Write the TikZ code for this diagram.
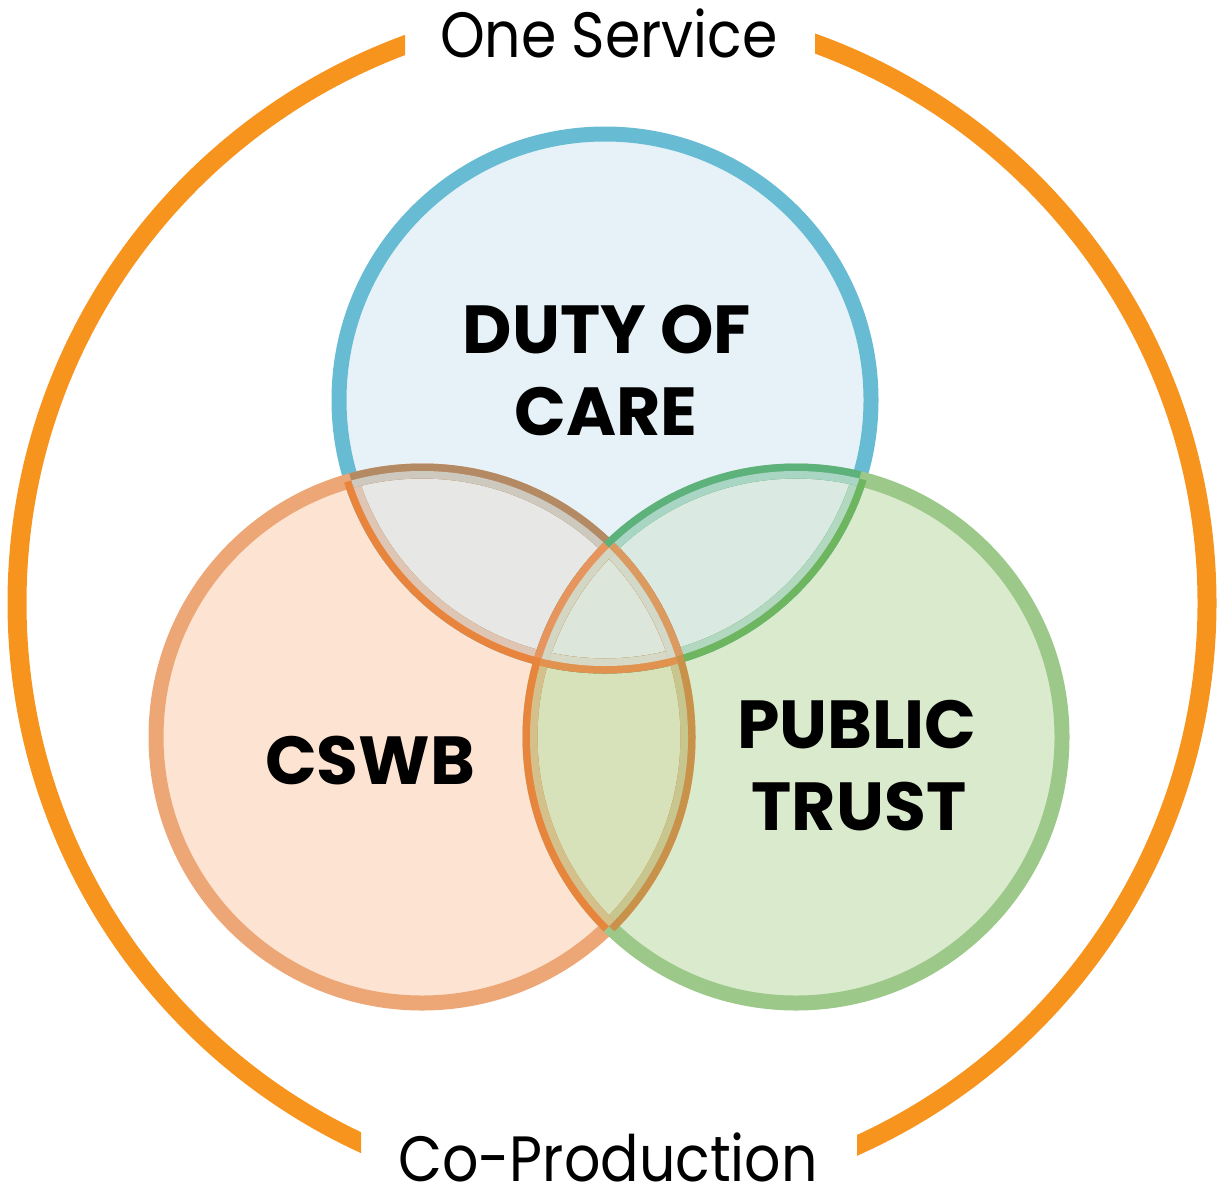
\documentclass[tikz,border=0pt]{standalone}
\usepackage{fontspec}
\setmainfont{Poppins}
\newfontfamily\thinfont{Poppins}[FakeStretch=0.89]
\definecolor{orng}{HTML}{F7941D}
\definecolor{bfill}{HTML}{E6F2F7}
\definecolor{pfill}{HTML}{FCE3D2}
\definecolor{gfill}{HTML}{DAEACC}
\definecolor{bpfill}{HTML}{E7E7E5}
\definecolor{bgfill}{HTML}{DAEAE3}
\definecolor{pgfill}{HTML}{D7E2BB}
\definecolor{cfill}{HTML}{DCE6DB}
\definecolor{bline}{HTML}{67BBD3}
\definecolor{pline}{HTML}{EDA676}
\definecolor{gline}{HTML}{9CC98A}
\definecolor{bInPo}{HTML}{E8843C}
\definecolor{bInPi}{HTML}{DFC5B4}
\definecolor{bInGo}{HTML}{6DB55F}
\definecolor{bInGi}{HTML}{B3D8C0}
\definecolor{pInBo}{HTML}{B38A64}
\definecolor{pInBi}{HTML}{CDC9BF}
\definecolor{pInGo}{HTML}{C9924B}
\definecolor{pInGi}{HTML}{C7C68F}
\definecolor{gInBo}{HTML}{5DB17B}
\definecolor{gInBi}{HTML}{A9D5C5}
\definecolor{gInPo}{HTML}{E8853D}
\definecolor{gInPi}{HTML}{D3C08B}
\definecolor{bCo}{HTML}{E2924F}
\definecolor{bCi}{HTML}{D6D9C6}
\definecolor{pCo}{HTML}{DB9A60}
\definecolor{pCi}{HTML}{D3D9C9}
\definecolor{gCo}{HTML}{E6955F}
\definecolor{gCi}{HTML}{D4D6C4}
\tikzset{
  ring/.style={line width=15pt},
  thinlabel/.style={font=\thinfont\fontsize{64}{64}\selectfont, text=black, inner sep=0pt, anchor=base, text depth=0pt},
  boldlabel/.style={font=\fontsize{68}{68}\selectfont\bfseries, text=black, inner sep=0pt, anchor=base}
}
\newcommand\vennseg[4]{%
  \begin{scope}
    \clip (#2) circle[radius=\R];
    \draw[ring, #3] (#1) circle[radius=\R];
    \clip (#1) circle[radius=\R];
    \draw[ring, #4] (#1) circle[radius=\R];
  \end{scope}}
\newcommand\venncseg[5]{%
  \begin{scope}
    \clip (#2) circle[radius=\R];
    \clip (#3) circle[radius=\R];
    \draw[ring, #4] (#1) circle[radius=\R];
    \clip (#1) circle[radius=\R];
    \draw[ring, #5] (#1) circle[radius=\R];
  \end{scope}}
\begin{document}
\begin{tikzpicture}[x=1pt,y=-1pt]
\useasboundingbox (0,0) rectangle (1225,1194);
\def\R{266}
\coordinate (O) at (612,603);
\coordinate (B) at (605,400);
\coordinate (P) at (422,737);
\coordinate (G) at (796,737);
% outer ring with gaps
\begin{scope}
  \clip (0,0) rectangle (405,600) (815,0) rectangle (1225,600)
        (0,600) rectangle (361,1194) (857,600) rectangle (1225,1194);
  \draw[orng, line width=19pt] (O) circle[radius=595];
\end{scope}
% fills
\fill[bfill] (B) circle[radius=\R];
\fill[pfill] (P) circle[radius=\R];
\fill[gfill] (G) circle[radius=\R];
\begin{scope}\clip (B) circle[radius=\R]; \fill[bpfill] (P) circle[radius=\R];\end{scope}
\begin{scope}\clip (B) circle[radius=\R]; \fill[bgfill] (G) circle[radius=\R];\end{scope}
\begin{scope}\clip (P) circle[radius=\R]; \fill[pgfill] (G) circle[radius=\R];\end{scope}
\begin{scope}\clip (B) circle[radius=\R]; \clip (P) circle[radius=\R]; \fill[cfill] (G) circle[radius=\R];\end{scope}
% base strokes
\draw[ring, bline] (B) circle[radius=\R];
\draw[ring, pline] (P) circle[radius=\R];
\draw[ring, gline] (G) circle[radius=\R];
% strokes inside other circles
\vennseg{B}{P}{bInPo}{bInPi}
\vennseg{B}{G}{bInGo}{bInGi}
\vennseg{P}{B}{pInBo}{pInBi}
\vennseg{P}{G}{pInGo}{pInGi}
\vennseg{G}{B}{gInBo}{gInBi}
\vennseg{G}{P}{gInPo}{gInPi}
\venncseg{B}{P}{G}{bCo}{bCi}
\venncseg{P}{B}{G}{pCo}{pCi}
\venncseg{G}{B}{P}{gCo}{gCi}
% labels
\node[thinlabel] (one) at (609,57) {One Service};
\node[thinlabel] (co) at (608,1181) {Co-Production};
\node[boldlabel] (duty1) at (607,353) {DUTY OF};
\node[boldlabel] (duty2) at (606,435) {CARE};
\node[boldlabel] (cswb) at (370,784) {CSWB};
\node[boldlabel] (pub1) at (857,748) {PUBLIC};
\node[boldlabel] (pub2) at (859,830) {TRUST};
\end{tikzpicture}
\end{document}
